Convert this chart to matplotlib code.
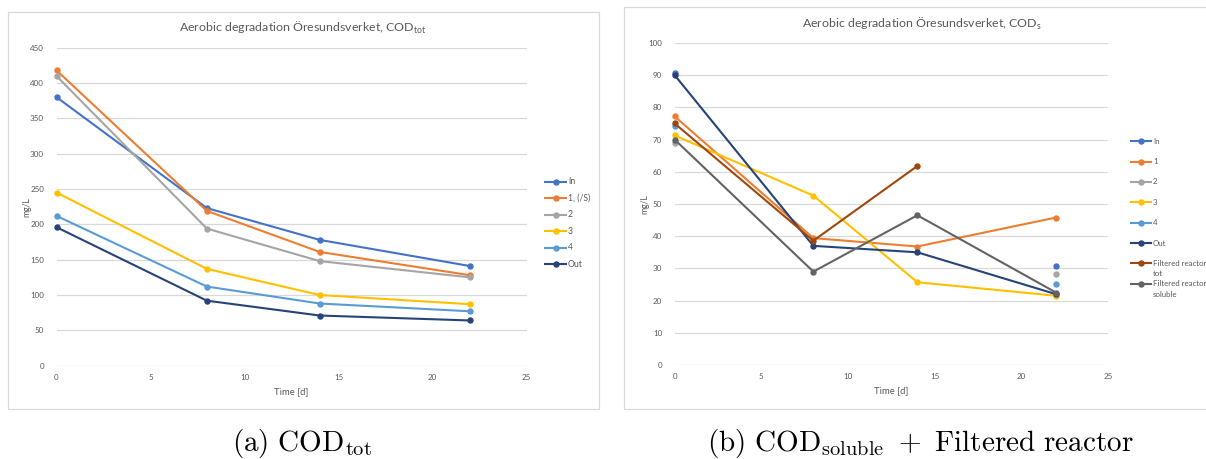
import numpy as np
import matplotlib
matplotlib.use("Agg")
import matplotlib.pyplot as plt
from matplotlib.lines import Line2D
from matplotlib.patches import Rectangle

# ---- data ----
days = [0, 8, 14, 22]

tot_labels = ["In", "1, (/S)", "2", "3", "4", "Out"]
tot_in = [380, 223, 178, 141]
tot_1 = [418, 219, 161, 128]
tot_2 = [410, 194, 148, 125]
tot_3 = [245, 137, 100, 87]
tot_4 = [212, 112, 88, 77]
tot_out = [196, 92, 71, 64]

sol_labels = ["In", "1", "2", "3", "4", "Out",
              "Filtered reactor\ntot", "Filtered reactor\nsoluble"]
sol_in = [90.8, np.nan, np.nan, 30.7]
sol_1 = [77.2, 39.4, 36.8, 45.8]
sol_2 = [69.0, np.nan, np.nan, 28.2]
sol_3 = [71.3, 52.6, 25.7, 21.5]
sol_4 = [74.2, np.nan, np.nan, 25.3]
sol_out = [90.0, 37.0, 35.0, 22.0]
sol_filt_tot = [75.0, 38.6, 61.8, np.nan]
sol_filt_sol = [70.0, 29.0, 46.5, 22.5]

COLORS = {
    "In": "#4472C4", "1": "#ED7D31", "2": "#A5A5A5", "3": "#FFC000",
    "4": "#5B9BD5", "Out": "#264478", "ftot": "#9E480E", "fsol": "#636363",
}
tot_colors = [COLORS[k] for k in ["In", "1", "2", "3", "4", "Out"]]
sol_colors = [COLORS[k] for k in ["In", "1", "2", "3", "4", "Out", "ftot", "fsol"]]

W, H = 1206, 459
fig = plt.figure(figsize=(W / 100, H / 100), dpi=100)
fig.patch.set_facecolor("white")

plt.rcParams["mathtext.fontset"] = "custom"
plt.rcParams["mathtext.rm"] = "Lato"
FONT = "Lato"
TXT = "#595959"
GRID = "#D9D9D9"
LW = 1.5
MS = 3.6


def fx(px):
    return px / W


def fy(py):
    return 1 - py / H


def frame(x0, y0, x1, y1):
    fig.patches.append(Rectangle((fx(x0), fy(y1)), fx(x1) - fx(x0), fy(y0) - fy(y1),
                                 transform=fig.transFigure, fill=False,
                                 edgecolor=GRID, linewidth=0.9, zorder=0))


def make_axes(x0, x1, ytop, ybot, ymax, ystep):
    ax = fig.add_axes([fx(x0), fy(ybot), fx(x1) - fx(x0), fy(ytop) - fy(ybot)])
    ax.set_xlim(0, 25)
    ax.set_ylim(0, ymax)
    ax.set_xticks(np.arange(0, 26, 5))
    ax.set_yticks(np.arange(0, ymax + 1, ystep))
    ax.yaxis.grid(True, color=GRID, linewidth=0.9)
    ax.set_axisbelow(True)
    for s in ax.spines.values():
        s.set_visible(False)
    ax.tick_params(length=0, labelsize=5.8, labelcolor=TXT)
    ax.tick_params(axis="y", pad=9)
    ax.tick_params(axis="x", pad=6)
    for lab in ax.get_xticklabels() + ax.get_yticklabels():
        lab.set_fontfamily(FONT)
    ax.set_facecolor("none")
    return ax


def draw_series(ax, series, colors):
    for vals, c in zip(series, colors):
        ax.plot(days, vals, color=c, linewidth=LW, marker="o", markersize=MS,
                solid_capstyle="round", clip_on=False)


def legend(x_line0, x_line1, x_text, ys, labels, colors, size=6.2, dy=10.7):
    for y, lab, c in zip(ys, labels, colors):
        fig.add_artist(Line2D([fx(x_line0), fx(x_line1)], [fy(y), fy(y)],
                              transform=fig.transFigure, color=c, linewidth=LW))
        fig.add_artist(Line2D([fx((x_line0 + x_line1) / 2)], [fy(y)],
                              transform=fig.transFigure, color=c, marker="o",
                              markersize=MS))
        for i, part in enumerate(lab.split("\n")):
            fig.text(fx(x_text), fy(y + i * dy), part, fontsize=size, color=TXT,
                     family=FONT, ha="left", va="center")


# ---- left panel: total COD ----
frame(7.5, 11.5, 599, 409)
ax1 = make_axes(56.5, 526.5, 47.7, 365.7, 450, 50)
draw_series(ax1, [tot_in, tot_1, tot_2, tot_3, tot_4, tot_out], tot_colors)
fig.text(fx(303), fy(28), r"Aerobic degradation Öresundsverket, COD$_{\mathregular{tot}}$",
         fontsize=8.9, color=TXT, family=FONT, ha="center", va="center")
fig.text(fx(27), fy(207), "mg/L", rotation=90, fontsize=6.2, color=TXT,
         family=FONT, ha="center", va="center")
fig.text(fx(291), fy(392), "Time [d]", fontsize=6.8, color=TXT, family=FONT,
         ha="center", va="center")
legend(545, 566, 568, [181.7, 198.3, 214.7, 231.3, 247.7, 264.3], tot_labels, tot_colors)

# ---- right panel: soluble COD and filtered reactor ----
frame(624.5, 6.7, 1210, 409)
ax2 = make_axes(674.7, 1108, 43, 365, 100, 10)
draw_series(ax2, [sol_in, sol_1, sol_2, sol_3, sol_4, sol_out,
                  sol_filt_tot, sol_filt_sol], sol_colors)
fig.text(fx(922), fy(23.5), r"Aerobic degradation Öresundsverket, COD$_{\mathregular{s}}$",
         fontsize=8.9, color=TXT, family=FONT, ha="center", va="center")
fig.text(fx(645), fy(204), "mg/L", rotation=90, fontsize=6.2, color=TXT,
         family=FONT, ha="center", va="center")
fig.text(fx(891), fy(391), "Time [d]", fontsize=6.8, color=TXT, family=FONT,
         ha="center", va="center")
legend(1131, 1151, 1153, [141.3, 161.7, 182, 202.3, 222.7, 243, 263.3, 283.7],
       sol_labels, sol_colors, size=5.7)

# ---- sub-captions (Computer Modern) ----
fig.text(fx(302), fy(443), r"$\mathrm{(a)\ COD}_{\mathrm{tot}}$", fontsize=21,
         color="black", ha="center", va="center", math_fontfamily="cm")
fig.text(fx(920), fy(443),
         r"$\mathrm{(b)\ COD}_{\mathrm{soluble}}\ +\ \mathrm{Filtered\ reactor}$",
         fontsize=21, color="black", ha="center", va="center", math_fontfamily="cm")

fig.savefig("out.png", dpi=100, facecolor="white")
